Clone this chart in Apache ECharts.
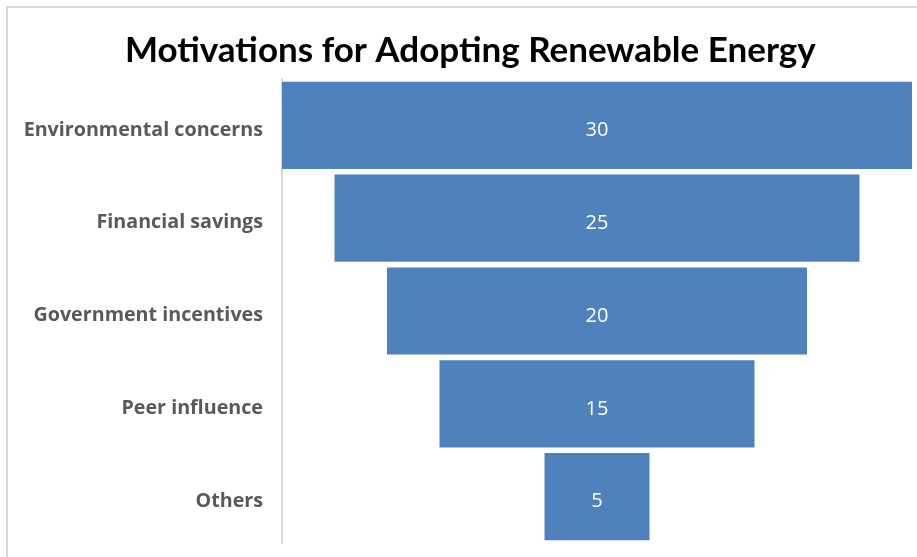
<!DOCTYPE html>
<html>
<head>
<meta charset="utf-8">
<script src="https://cdn.jsdelivr.net/npm/echarts@6/dist/echarts.min.js"></script>
<style>
html,body{margin:0;padding:0;background:#fff;}
#chart{width:917px;height:557px;}
</style>
</head>
<body>
<div id="chart"></div>
<script>
const title = "Motivations for Adopting Renewable Energy";
const categories = ["Environmental concerns", "Financial savings", "Government incentives", "Peer influence", "Others"];
const values = [30, 25, 20, 15, 5];

const maxVal = Math.max(...values);
const offsets = values.map(v => (maxVal - v) / 2);

const chart = echarts.init(document.getElementById('chart'));
chart.setOption({
  backgroundColor: '#ffffff',
  animation: false,
  graphic: [{
    type: 'rect',
    shape: { x: 7, y: 7, width: 940, height: 580 },
    style: { fill: 'none', stroke: '#D9D9D9', lineWidth: 2 },
    silent: true
  }],
  title: {
    text: title,
    left: 120,
    top: 28,
    textStyle: { fontFamily: 'Lato', fontWeight: 'bold', fontSize: 35, color: '#000000' }
  },
  grid: { left: 282, right: 5, top: 79, bottom: 14, containLabel: false },
  xAxis: {
    type: 'value', min: 0, max: maxVal, show: false
  },
  yAxis: {
    type: 'category',
    data: categories,
    inverse: true,
    axisLine: { show: true, lineStyle: { color: '#D9D9D9', width: 2 } },
    axisTick: { show: false },
    axisLabel: {
      margin: 19,
      formatter: '{a|{value}}',
      rich: {
        a: {
          padding: [9, 0, 0, 0],
          fontFamily: 'Open Sans', fontWeight: 'bold', fontSize: 19.7, color: '#595959'
        }
      }
    }
  },
  series: [
    {
      type: 'bar', stack: 'f', data: offsets,
      itemStyle: { color: 'transparent' },
      barCategoryGap: '6%', silent: true
    },
    {
      type: 'bar', stack: 'f', data: values,
      itemStyle: { color: '#4F81BD' },
      barCategoryGap: '6%',
      label: {
        show: true, position: 'inside', color: '#ffffff', offset: [0, 5],
        fontFamily: 'Open Sans', fontSize: 20
      }
    }
  ]
});
</script>
</body>
</html>
